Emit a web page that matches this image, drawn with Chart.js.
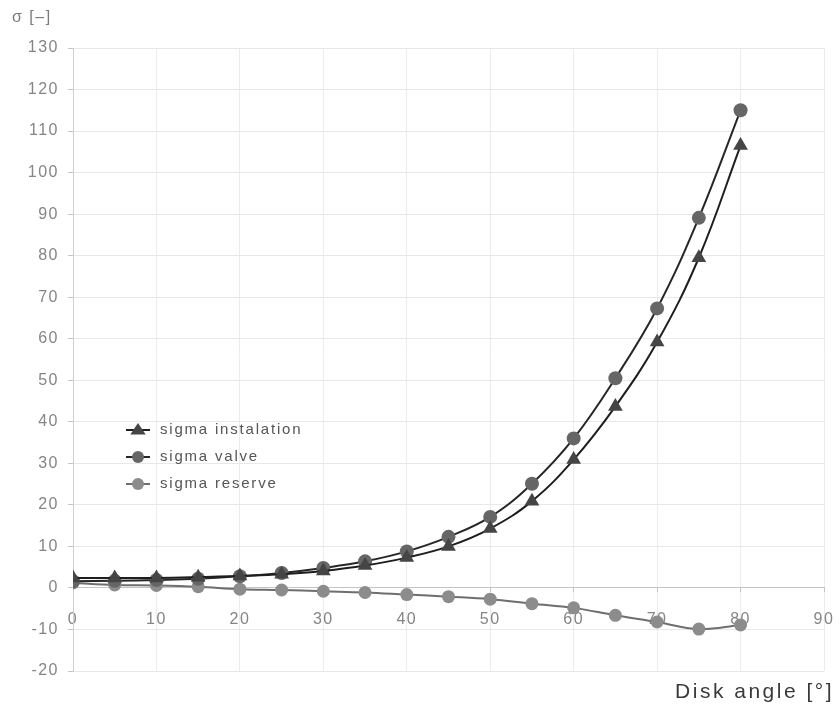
<!DOCTYPE html>
<html>
<head>
<meta charset="utf-8">
<script src="https://cdn.jsdelivr.net/npm/chart.js@4/dist/chart.umd.min.js"></script>
<style>
  html, body { margin: 0; padding: 0; background: #fff; }
  #wrap { width: 840px; height: 713px; position: relative; }
</style>
</head>
<body>
<div id="wrap"><canvas id="c"></canvas></div>
<script>
const angles = [0, 5, 10, 15, 20, 25, 30, 35, 40, 45, 50, 55, 60, 65, 70, 75, 80];
const sigmaInstalation = [2.4, 2.4, 2.4, 2.6, 2.9, 3.3, 4.1, 5.4, 7.3, 10.0, 14.3, 20.9, 30.9, 43.7, 59.2, 79.5, 106.5];
const sigmaValve = [1.6, 1.7, 1.9, 2.2, 2.8, 3.6, 4.8, 6.4, 8.8, 12.3, 17.1, 25.1, 36.0, 50.5, 67.3, 89.1, 115.0];
const sigmaReserve = [1.2, 0.7, 0.6, 0.3, -0.3, -0.5, -0.8, -1.1, -1.6, -2.1, -2.7, -3.8, -4.8, -6.6, -8.2, -9.9, -8.9];

const FONT = '"Liberation Sans", Arial, sans-serif';

const series = [
  { label: 'sigma instalation', data: sigmaInstalation, line: '#1e1e1e', fill: '#454545', style: 'triangle', r: 8.5 },
  { label: 'sigma valve', data: sigmaValve, line: '#262626', fill: '#666666', style: 'circle', r: 7 },
  { label: 'sigma reserve', data: sigmaReserve, line: '#6e6e6e', fill: '#8c8c8c', style: 'circle', r: 6.5 },
];

function marker(ctx, style, x, y, r, color) {
  ctx.fillStyle = color;
  ctx.beginPath();
  if (style === 'triangle') {
    ctx.moveTo(x, y - r);
    ctx.lineTo(x + r * 1.1, y + r * 0.65);
    ctx.lineTo(x - r * 1.1, y + r * 0.65);
    ctx.closePath();
  } else {
    ctx.arc(x, y, r, 0, Math.PI * 2);
  }
  ctx.fill();
}

// titles + legend drawn inside the plot like the original
const overlay = {
  id: 'overlay',
  beforeDraw(chart) {
    chart.ctx.letterSpacing = '1.5px';
  },
  afterDraw(chart) {
    const ctx = chart.ctx;
    ctx.save();
    ctx.letterSpacing = '1.5px';
    ctx.textBaseline = 'middle';
    ctx.fillStyle = '#7a7a7a';
    ctx.font = '16px ' + FONT;
    ctx.textAlign = 'left';
    ctx.fillText('σ [–]', 12, 18);

    ctx.letterSpacing = '2.5px';
    ctx.fillStyle = '#3a3a3a';
    ctx.font = '21px ' + FONT;
    ctx.textAlign = 'right';
    ctx.fillText('Disk angle [°]', 834, 692);

    const rows = [430, 457, 484];
    ctx.letterSpacing = '1.8px';
    ctx.font = '15px ' + FONT;
    ctx.textAlign = 'left';
    series.forEach((s, i) => {
      const y = rows[i];
      ctx.strokeStyle = s.line;
      ctx.lineWidth = 2;
      ctx.beginPath();
      ctx.moveTo(126, y);
      ctx.lineTo(150, y);
      ctx.stroke();
      marker(ctx, s.style, 138, y, s.style === 'triangle' ? 7 : 6, s.fill);
      ctx.fillStyle = '#555';
      ctx.fillText(s.label, 160, y);
    });
    ctx.restore();
  }
};

new Chart(document.getElementById('c'), {
  type: 'line',
  data: {
    labels: angles,
    datasets: series.map(s => ({
      label: s.label,
      data: angles.map((a, i) => ({ x: a, y: s.data[i] })),
      borderColor: s.line,
      borderWidth: 2,
      backgroundColor: s.fill,
      pointBackgroundColor: s.fill,
      pointBorderColor: s.fill,
      pointBorderWidth: 0,
      pointStyle: s.style,
      pointRadius: s.r,
      tension: 0.4,
      fill: false,
    })),
  },
  options: {
    responsive: true,
    maintainAspectRatio: false,
    animation: false,
    layout: { padding: { left: 0, right: 16, top: 48, bottom: 42 } },
    plugins: { legend: { display: false }, tooltip: { enabled: false } },
    scales: {
      x: {
        type: 'linear',
        position: { y: 0 },
        min: 0, max: 90,
        afterFit(scale) { scale.paddingRight = 0; scale.paddingLeft = 0; },
        ticks: { stepSize: 10, color: '#858585', font: { family: FONT, size: 16 }, padding: 18 },
        grid: { color: '#ececec', tickColor: '#c4c4c4', tickLength: 4 },
        border: { color: '#c4c4c4' },
      },
      y: {
        type: 'linear',
        min: -20, max: 130,
        afterFit(scale) { scale.width = 73; },
        ticks: { stepSize: 10, color: '#858585', font: { family: FONT, size: 16 }, padding: 9 },
        grid: { color: '#e8e8e8', tickColor: '#c4c4c4', tickLength: 5 },
        border: { color: '#cfcfcf' },
      },
    },
  },
  plugins: [overlay],
});
</script>
</body>
</html>
